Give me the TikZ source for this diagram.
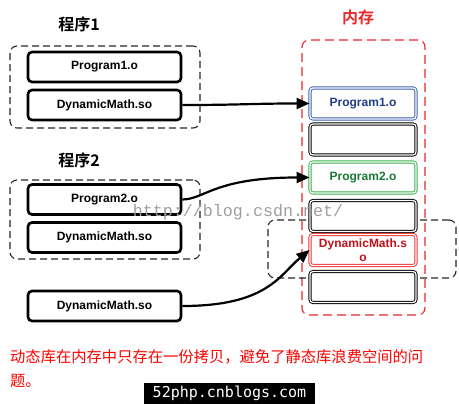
\documentclass[tikz,border=0pt]{standalone}
\usepackage{fontspec}
\setmainfont{Liberation Sans}
\newfontfamily\cjk{Noto Sans CJK SC}
\newfontfamily\cjkb{Noto Sans CJK SC Bold}
\newfontfamily\wmfont{Liberation Mono}
\newfontfamily\barfont{DejaVu Sans Mono}
\usetikzlibrary{arrows.meta}
\definecolor{memred}{HTML}{E8282A}
\definecolor{cellblue}{HTML}{3A5FB0}
\definecolor{txtblue}{HTML}{1F3C88}
\definecolor{cellgreen}{HTML}{38B04C}
\definecolor{txtgreen}{HTML}{1A7A36}
\definecolor{cellred}{HTML}{EE3030}
\definecolor{txtred}{HTML}{C0101A}
\tikzset{
  progbox/.style={draw=black, line width=2.6pt, rounded corners=4pt, fill=white,
    minimum width=153pt, minimum height=30pt, inner sep=0pt,
    font=\fontsize{12}{14}\selectfont\bfseries},
  groupbox/.style={draw=black!85, dash pattern=on 7pt off 4pt, line width=1.1pt,
    rounded corners=7pt, inner sep=0pt},
  memcell/.style={draw=#1, double=white, double distance=1.3pt, line width=0.9pt,
    rounded corners=3pt, fill=white, minimum width=106pt, minimum height=31pt,
    inner sep=0pt, font=\fontsize{12}{14}\selectfont\bfseries},
  arrowline/.style={line width=2.2pt, -{Triangle[length=13pt,width=11pt]}},
  title/.style={font=\cjkb\fontsize{16}{18}\selectfont, inner sep=0pt}
}
\begin{document}
\begin{tikzpicture}[x=1pt,y=-1pt]
\useasboundingbox (0,0) rectangle (459,404);
% titles
\node[title] (lab1) at (79,24) {程序1};
\node[title] (lab2) at (79,160) {程序2};
\node[title, text=memred] (labmem) at (358,17) {内存};
% group boxes
\node[groupbox, minimum width=190pt, minimum height=82pt] (g1) at (105,87) {};
\node[groupbox, minimum width=190pt, minimum height=79pt] (g2) at (105,219.5) {};
\node[groupbox, draw=memred, dash pattern=on 9pt off 5pt, minimum width=123pt, minimum height=275pt] (gmem) at (363.5,177.5) {};
\node[groupbox, minimum width=188pt, minimum height=58pt] (gdm) at (362,249) {};
% program boxes
\node[progbox] (p1) at (104.5,67) {Program1.o};
\node[progbox] (d1) at (104.5,105) {DynamicMath.so};
\node[progbox] (p2) at (104.5,199.5) {Program2.o};
\node[progbox] (d2) at (104.5,237.5) {DynamicMath.so};
\node[progbox] (d3) at (104.5,306) {DynamicMath.so};
% memory cells
\node[memcell=cellblue, text=txtblue] (m1) at (363,103.5) {Program1.o};
\node[memcell=black] (m2) at (363,139.5) {};
\node[memcell=cellgreen, text=txtgreen] (m3) at (363,177.5) {Program2.o};
\node[memcell=black] (m4) at (363,216) {};
\node[memcell=cellred, text=txtred, align=center] (m5) at (363,250) {DynamicMath.s\\o};
\node[memcell=black] (m6) at (363,287) {};
% arrows
\draw[arrowline] (d1.east) .. controls +(60,0) and +(-60,0) .. (m1.west);
\draw[arrowline] (p2.east) .. controls +(22,0) and +(-95,0) .. (m3.west);
\draw[arrowline] (d3.east) .. controls +(85,0) and +(-30,25) .. (m5.west);
% watermark
\node[text=black!38, font=\wmfont\fontsize{16.7}{18}\selectfont, inner sep=0pt] (wm) at (238,212) {http://blog.csdn.net/};
% note
\node[anchor=west, text=red, font=\cjk\fontsize{15.3}{18}\selectfont, inner sep=0pt] (note1) at (10,357) {动态库在内存中只存在一份拷贝，避免了静态库浪费空间的问};
\node[anchor=west, text=red, font=\cjk\fontsize{15.3}{18}\selectfont, inner sep=0pt] (note2) at (10,381) {题。};
% bottom bar
\node[fill=black, text=white, minimum width=171pt, minimum height=21pt, inner sep=0pt,
  font=\barfont\fontsize{15}{17}\selectfont] (bar) at (229.5,393.5) {52php.cnblogs.com};
\end{tikzpicture}
\end{document}
